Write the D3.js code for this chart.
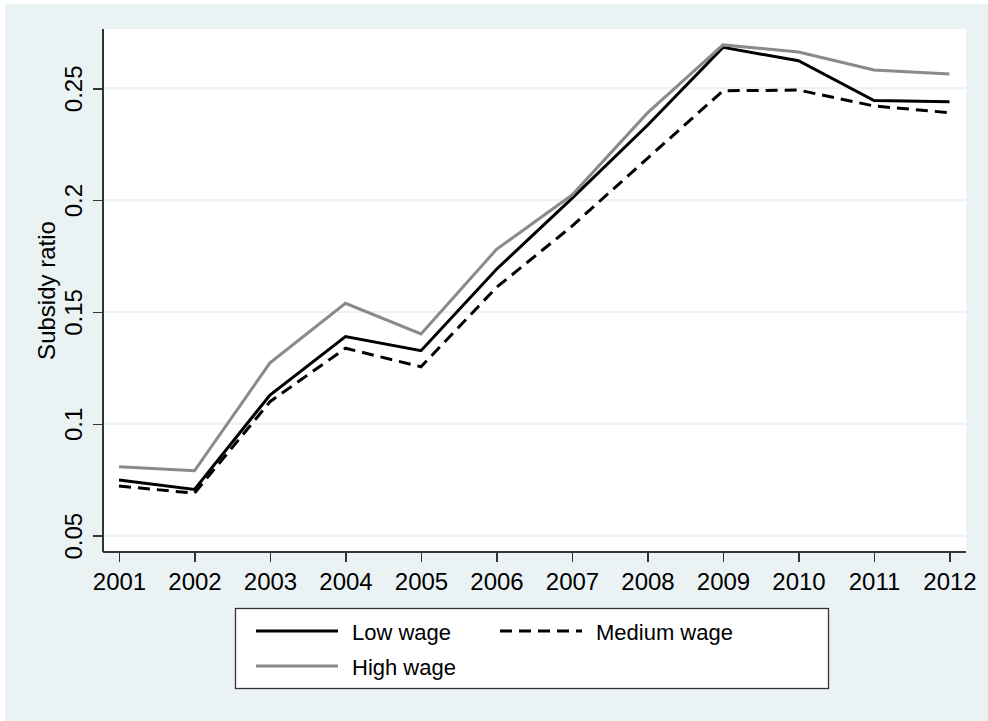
<!DOCTYPE html>
<html>
<head>
<meta charset="utf-8">
<script src="https://cdn.jsdelivr.net/npm/d3@7"></script>
<style>
  body { margin: 0; background: #fff; }
  text { font-family: "Liberation Sans", Arial, Helvetica, sans-serif; fill: #000; }
</style>
</head>
<body>
<svg id="chart" width="988" height="721"></svg>
<script>
// data
const years = [2001, 2002, 2003, 2004, 2005, 2006, 2007, 2008, 2009, 2010, 2011, 2012];
const lowWage    = [0.0749, 0.0707, 0.1129, 0.1390, 0.1327, 0.1691, 0.2008, 0.2335, 0.2683, 0.2623, 0.2445, 0.2440];
const mediumWage = [0.0722, 0.0690, 0.1099, 0.1338, 0.1255, 0.1610, 0.1884, 0.2187, 0.2489, 0.2492, 0.2421, 0.2391];
const highWage   = [0.0808, 0.0790, 0.1273, 0.1539, 0.1402, 0.1780, 0.2023, 0.2390, 0.2694, 0.2662, 0.2582, 0.2564];
const yTicks = [0.05, 0.1, 0.15, 0.2, 0.25];
const yTickLabels = ["0.05", "0.1", "0.15", "0.2", "0.25"];
const seriesNames = ["Low wage", "Medium wage", "High wage"];

function drawChart() {
    // plot region
    const plot = { left: 103, right: 966, top: 29, bottom: 552 };
    const bg = "#eaf2f3";

    const svg = d3.select("#chart");

    // outer graph region
    svg.append("rect")
        .attr("x", 5).attr("y", 4)
        .attr("width", 983).attr("height", 717)
        .attr("fill", bg);

    // inner plot region
    svg.append("rect")
        .attr("x", plot.left).attr("y", plot.top)
        .attr("width", plot.right - plot.left).attr("height", plot.bottom - plot.top)
        .attr("fill", "#fff");

    const x = d3.scaleLinear()
        .domain([2001, 2012])
        .range([119, 949.5]);

    const y = d3.scaleLinear()
        .domain([0.05, 0.25])
        .range([535.7, 88.3]);

    // gridlines
    svg.append("g")
        .selectAll("line")
        .data(yTicks)
        .join("line")
        .attr("x1", plot.left).attr("x2", plot.right)
        .attr("y1", d => y(d)).attr("y2", d => y(d))
        .attr("stroke", bg)
        .attr("stroke-width", 2);

    // lines
    const series = [
        { name: seriesNames[0], values: lowWage, color: "#000", dash: null },
        { name: seriesNames[1], values: mediumWage, color: "#000", dash: "12,7" },
        { name: seriesNames[2], values: highWage, color: "#8a8a8a", dash: null }
    ];

    const line = d3.line()
        .x((d, i) => x(years[i]))
        .y(d => y(d));

    svg.append("g")
        .selectAll("path")
        .data(series)
        .join("path")
        .attr("d", d => line(d.values))
        .attr("fill", "none")
        .attr("stroke", d => d.color)
        .attr("stroke-width", 3)
        .attr("stroke-dasharray", d => d.dash)
        .attr("stroke-linejoin", "miter");

    // y axis
    const yAxis = svg.append("g")
        .attr("transform", `translate(${plot.left},0)`)
        .call(d3.axisLeft(y).tickValues(yTicks).tickSize(10).tickSizeOuter(0)
            .tickFormat((d, i) => yTickLabels[i]));
    yAxis.select(".domain")
        .attr("d", `M0,${plot.top}V${plot.bottom}`)
        .attr("stroke", "#333").attr("stroke-width", 1.6);
    yAxis.selectAll(".tick line").attr("stroke", "#333").attr("stroke-width", 1.6);
    yAxis.selectAll(".tick text")
        .attr("transform", "rotate(-90)")
        .attr("x", 0).attr("y", -21.5).attr("dy", 0)
        .attr("text-anchor", "middle")
        .attr("font-size", 24)
        .attr("fill", "#000");

    // x axis
    const xAxis = svg.append("g")
        .attr("transform", `translate(0,${plot.bottom})`)
        .call(d3.axisBottom(x).tickValues(years).tickSize(10).tickSizeOuter(0)
            .tickFormat(d3.format("d")));
    xAxis.select(".domain")
        .attr("d", `M${plot.left},0H${plot.right}`)
        .attr("stroke", "#333").attr("stroke-width", 1.6);
    xAxis.selectAll(".tick line").attr("stroke", "#333").attr("stroke-width", 1.6);
    xAxis.selectAll(".tick text")
        .attr("y", 37.5).attr("dy", 0)
        .attr("font-size", 24)
        .attr("fill", "#000");
    svg.selectAll(".domain, .tick line").attr("shape-rendering", "crispEdges");

    // y axis title
    svg.append("text")
        .attr("transform", `translate(55,${(plot.top + plot.bottom) / 2}) rotate(-90)`)
        .attr("text-anchor", "middle")
        .attr("font-size", 24)
        .text("Subsidy ratio");

    // legend
    const legend = svg.append("g");
    legend.append("rect")
        .attr("x", 235.5).attr("y", 608.5)
        .attr("width", 593).attr("height", 80)
        .attr("fill", "#fff")
        .attr("stroke", "#333").attr("stroke-width", 1.3);

    const slots = [
        { x: 256, y: 631 },
        { x: 500, y: 631 },
        { x: 256, y: 666 }
    ];

    const items = legend.selectAll("g.item")
        .data(series)
        .join("g")
        .attr("class", "item")
        .attr("transform", (d, i) => `translate(${slots[i].x},${slots[i].y})`);

    items.append("line")
        .attr("x1", 0).attr("x2", 82)
        .attr("y1", 0).attr("y2", 0)
        .attr("stroke", d => d.color)
        .attr("stroke-width", 3)
        .attr("stroke-dasharray", d => d.dash);

    items.append("text")
        .attr("x", 96).attr("y", 9)
        .attr("font-size", 22)
        .text(d => d.name);
}

drawChart();
</script>
</body>
</html>
